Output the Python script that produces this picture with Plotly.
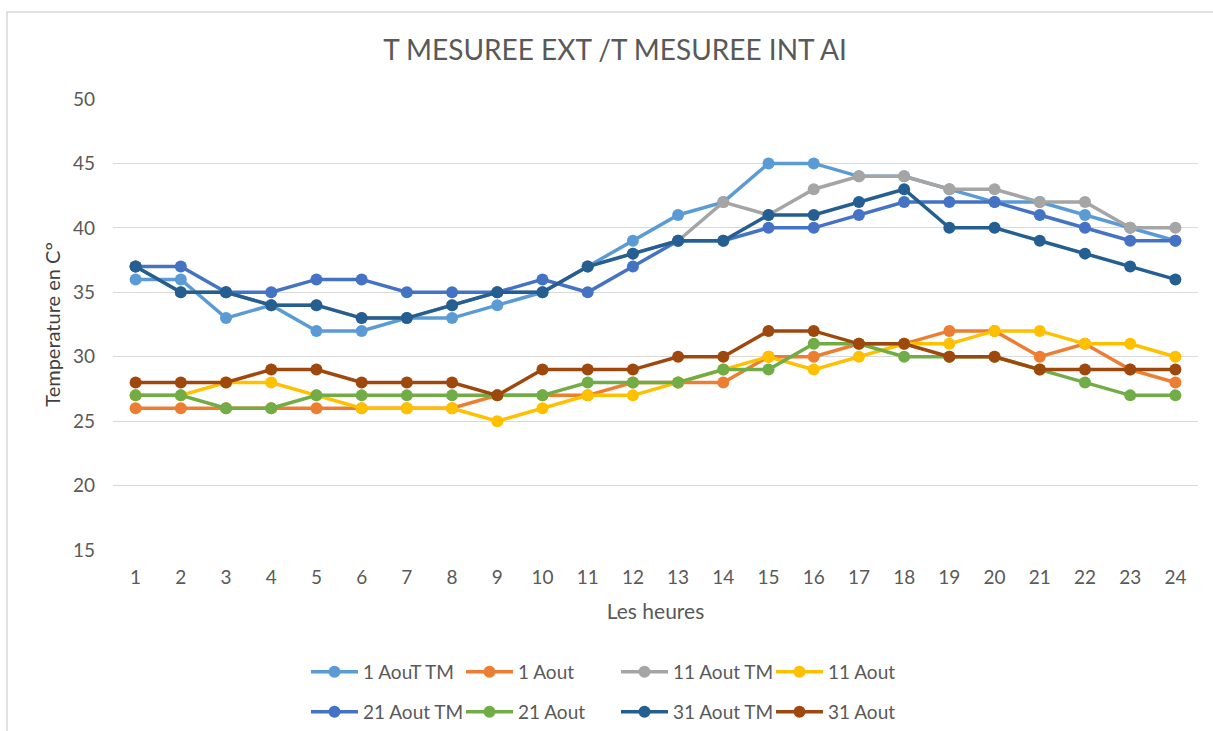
import plotly.graph_objects as go

# Hours of the day (category axis)
heures = list(range(1, 25))

# Measured temperatures (°C) per day: "TM" = outside, plain = inside
t_1_aout_tm = [36, 36, 33, 34, 32, 32, 33, 33, 34, 35, 37, 39, 41, 42, 45, 45, 44, 44, 43, 42, 42, 41, 40, 39]
t_1_aout = [26, 26, 26, 26, 26, 26, 26, 26, 27, 27, 27, 28, 28, 28, 30, 30, 31, 31, 32, 32, 30, 31, 29, 28]
t_11_aout_tm = [37, 35, 35, 34, 34, 33, 33, 34, 35, 35, 37, 38, 39, 42, 41, 43, 44, 44, 43, 43, 42, 42, 40, 40]
t_11_aout = [27, 27, 28, 28, 27, 26, 26, 26, 25, 26, 27, 27, 28, 29, 30, 29, 30, 31, 31, 32, 32, 31, 31, 30]
t_21_aout_tm = [37, 37, 35, 35, 36, 36, 35, 35, 35, 36, 35, 37, 39, 39, 40, 40, 41, 42, 42, 42, 41, 40, 39, 39]
t_21_aout = [27, 27, 26, 26, 27, 27, 27, 27, 27, 27, 28, 28, 28, 29, 29, 31, 31, 30, 30, 30, 29, 28, 27, 27]
t_31_aout_tm = [37, 35, 35, 34, 34, 33, 33, 34, 35, 35, 37, 38, 39, 39, 41, 41, 42, 43, 40, 40, 39, 38, 37, 36]
t_31_aout = [28, 28, 28, 29, 29, 28, 28, 28, 27, 29, 29, 29, 30, 30, 32, 32, 31, 31, 30, 30, 29, 29, 29, 29]

series = [
    ("1 AouT TM", t_1_aout_tm, "#5B9BD5", "legend"),
    ("1 Aout", t_1_aout, "#ED7D31", "legend"),
    ("11 Aout TM", t_11_aout_tm, "#A5A5A5", "legend"),
    ("11 Aout", t_11_aout, "#FFC000", "legend"),
    ("21 Aout TM", t_21_aout_tm, "#4472C4", "legend2"),
    ("21 Aout", t_21_aout, "#70AD47", "legend2"),
    ("31 Aout TM", t_31_aout_tm, "#255E91", "legend2"),
    ("31 Aout", t_31_aout, "#9E480E", "legend2"),
]

FONT = "Lato, 'Open Sans', sans-serif"
GREY_TEXT = "#595959"

fig = go.Figure()
for name, vals, color, lg in series:
    fig.add_trace(go.Scatter(
        x=heures, y=vals, name=name, mode="lines+markers",
        line=dict(color=color, width=3.5),
        marker=dict(color=color, size=12),
        legend=lg,
    ))

legend_common = dict(
    orientation="h", xanchor="left", yanchor="middle",
    font=dict(family=FONT, size=19, color=GREY_TEXT),
    entrywidth=93, entrywidthmode="pixels",
    tracegroupgap=0, itemwidth=47, bgcolor="rgba(0,0,0,0)",
)

fig.update_layout(
    width=1213, height=731,
    margin=dict(l=113, r=15, t=99, b=181, autoexpand=False),
    paper_bgcolor="white", plot_bgcolor="white",
    font=dict(family=FONT, color=GREY_TEXT),
    title=dict(
        text="T MESUREE EXT /T MESUREE INT AI",
        x=615 / 1213, xanchor="center", xref="container",
        y=1 - 50 / 731, yanchor="middle",
        font=dict(family=FONT, size=28, color=GREY_TEXT),
    ),
    xaxis=dict(
        type="linear", range=[0.5, 24.5], tickmode="array", tickvals=heures,
        ticktext=[str(h) for h in heures],
        showgrid=False, zeroline=False, showline=False, ticks="",
        ticklabelstandoff=14,
        tickfont=dict(family=FONT, size=19, color=GREY_TEXT),
        title=dict(text="Les heures", standoff=17,
                   font=dict(family=FONT, size=21, color=GREY_TEXT)),
    ),
    yaxis=dict(
        range=[15, 50], tickmode="array", tickvals=[15, 20, 25, 30, 35, 40, 45, 50],
        showgrid=True, gridcolor="#D9D9D9", gridwidth=1, zeroline=False,
        showline=False, ticks="", ticklabelstandoff=17,
        tickfont=dict(family=FONT, size=19, color=GREY_TEXT),
        title=dict(text="Temperature en C°", standoff=6,
                   font=dict(family=FONT, size=20, color="#404040")),
    ),
    legend=dict(x=(306 - 113) / 1085, y=(550 - 672) / 451, **legend_common),
    legend2=dict(x=(306 - 113) / 1085, y=(550 - 712) / 451, **legend_common),
    showlegend=True,
)

# Chart-area frame
fig.add_shape(
    type="rect", xref="paper", yref="paper",
    x0=(7 - 113) / 1085, x1=(1230 - 113) / 1085,
    y0=(550 - 760) / 451, y1=(550 - 12) / 451,
    line=dict(color="#D9D9D9", width=1.5), fillcolor="rgba(0,0,0,0)", layer="below",
)

fig.write_html("out.html")
